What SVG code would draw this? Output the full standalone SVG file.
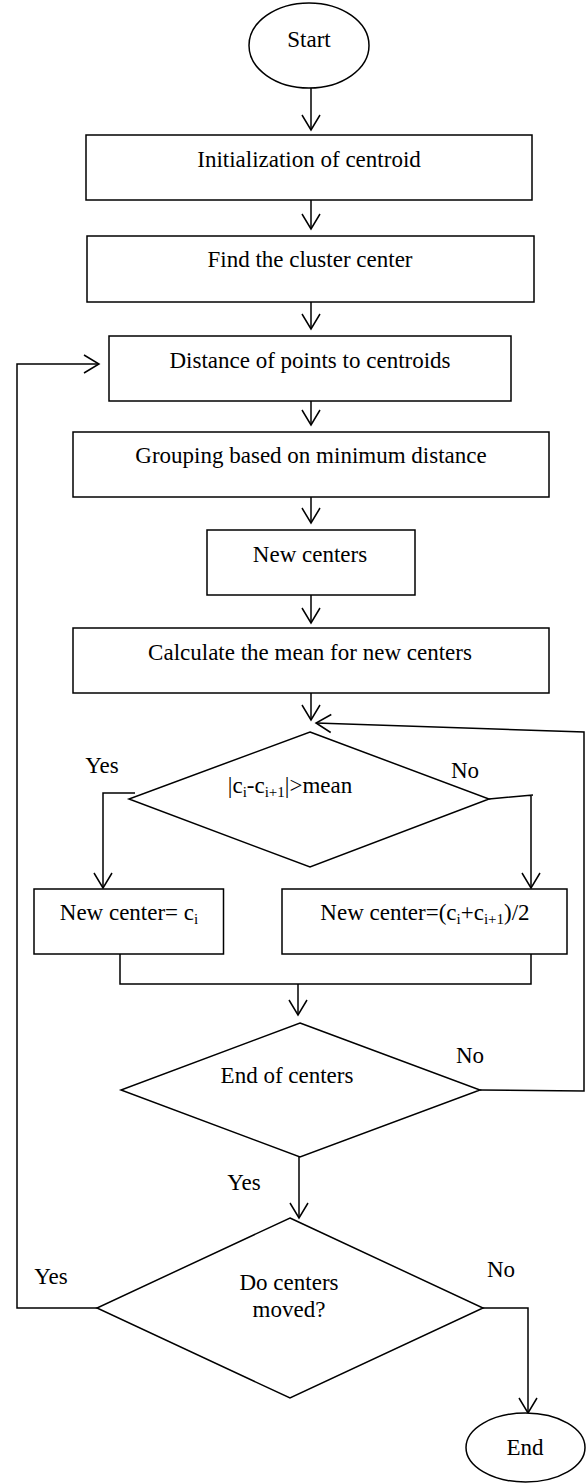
<svg xmlns="http://www.w3.org/2000/svg" width="587" height="1483" viewBox="0 0 587 1483">
<style>
.s{fill:#fff;stroke:#000;stroke-width:1.5}
.c{fill:none;stroke:#000;stroke-width:1.5}
.m{text-anchor:middle}
.sb{font-size:15px}
</style>
<defs>
<marker id="a" viewBox="-17 -11 19 22" refX="0" refY="0" markerWidth="19" markerHeight="22" markerUnits="userSpaceOnUse" orient="auto">
<path d="M-15,-9 L0,0 L-15,9" fill="none" stroke="#000" stroke-width="1.5"/>
</marker>
</defs>
<rect width="587" height="1483" fill="#fff"/>
<g font-family="'Liberation Serif', 'Times New Roman', serif" font-size="23" fill="#000">
<g id="connectors">
<path class="c" d="M311,88 V130" marker-end="url(#a)"/>
<path class="c" d="M311,200 V229" marker-end="url(#a)"/>
<path class="c" d="M311,302 V329" marker-end="url(#a)"/>
<path class="c" d="M311,401 V425" marker-end="url(#a)"/>
<path class="c" d="M311,497 V523" marker-end="url(#a)"/>
<path class="c" d="M311,595 V623" marker-end="url(#a)"/>
<path class="c" d="M311,693 V720" marker-end="url(#a)"/>
<path class="c" d="M135,793 H103 V888" marker-end="url(#a)"/>
<path class="c" d="M489,799 L533,795 M531,795 V888" marker-end="url(#a)"/>
<path class="c" d="M120,954 V984 H531 V954"/>
<path class="c" d="M298,984 V1015" marker-end="url(#a)"/>
<path class="c" d="M480,1090 L584,1091 V732 L316,723" marker-end="url(#a)"/>
<path class="c" d="M299,1157 V1218" marker-end="url(#a)"/>
<path class="c" d="M97,1308 H17 V364 H99" marker-end="url(#a)"/>
<path class="c" d="M483,1308 H528 V1413" marker-end="url(#a)"/>
<text x="102" y="773" class="m">Yes</text>
<text x="465" y="778" class="m">No</text>
<text x="470" y="1063" class="m">No</text>
<text x="244" y="1190" class="m">Yes</text>
<text x="51" y="1284" class="m">Yes</text>
<text x="501" y="1277" class="m">No</text>
</g>
<g id="start">
<ellipse class="s" cx="309" cy="45.5" rx="60" ry="42.5"/>
<text x="309" y="47" class="m">Start</text>
</g>
<g id="init">
<rect class="s" x="86" y="135" width="446" height="65"/>
<text x="309" y="167" class="m">Initialization of centroid</text>
</g>
<g id="find">
<rect class="s" x="87" y="236" width="447" height="66"/>
<text x="310" y="267" class="m">Find the cluster center</text>
</g>
<g id="distance">
<rect class="s" x="109" y="336" width="402" height="65"/>
<text x="310" y="368" class="m">Distance of points to centroids</text>
</g>
<g id="grouping">
<rect class="s" x="73" y="432" width="476" height="65"/>
<text x="311" y="463" class="m">Grouping based on minimum distance</text>
</g>
<g id="newcenters">
<rect class="s" x="207" y="530" width="208" height="65"/>
<text x="310" y="562" class="m">New centers</text>
</g>
<g id="mean">
<rect class="s" x="73" y="628" width="476" height="65"/>
<text x="310" y="660" class="m">Calculate the mean for new centers</text>
</g>
<g id="cond">
<polygon class="s" points="310,732 489,799 310,867 129,799"/>
<text x="290" y="793" class="m">|c<tspan class="sb" dy="4">i</tspan><tspan dy="-4">-c</tspan><tspan class="sb" dy="4">i+1</tspan><tspan dy="-4">|&gt;mean</tspan></text>
</g>
<g id="newci">
<rect class="s" x="34" y="889" width="189.5" height="65"/>
<text x="129" y="920" class="m">New center= c<tspan class="sb" dy="4">i</tspan></text>
</g>
<g id="newavg">
<rect class="s" x="282" y="889" width="285" height="65"/>
<text x="425" y="920" class="m">New center=(c<tspan class="sb" dy="4">i</tspan><tspan dy="-4">+c</tspan><tspan class="sb" dy="4">i+1</tspan><tspan dy="-4">)/2</tspan></text>
</g>
<g id="endcenters">
<polygon class="s" points="300,1023 480,1090 300,1157 121,1090"/>
<text x="287" y="1083" class="m">End of centers</text>
</g>
<g id="moved">
<polygon class="s" points="290,1218 483,1308 290,1398 97,1308"/>
<text x="289" y="1290" class="m">Do centers</text>
<text x="289" y="1317" class="m">moved?</text>
</g>
<g id="end">
<ellipse class="s" cx="525.5" cy="1447.5" rx="59.5" ry="34.5"/>
<text x="525" y="1455" class="m">End</text>
</g>
</g>
</svg>
